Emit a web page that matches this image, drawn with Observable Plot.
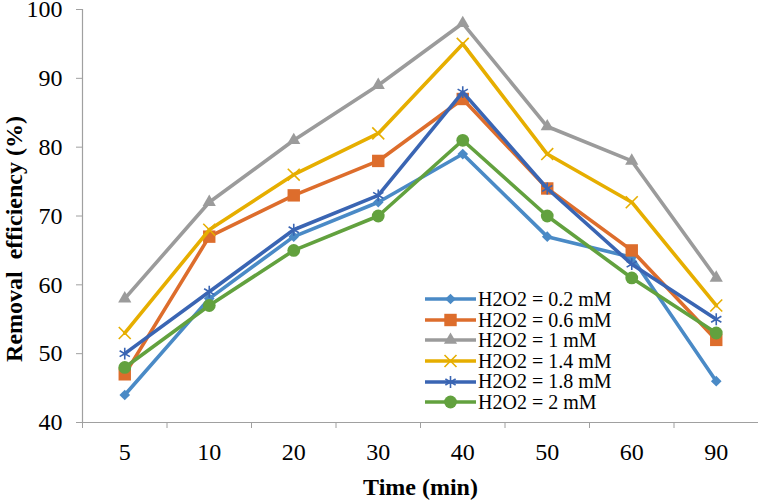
<!DOCTYPE html>
<html><head><meta charset="utf-8">
<script src="https://cdn.jsdelivr.net/npm/d3@7"></script>
<script src="https://cdn.jsdelivr.net/npm/@observablehq/plot@0.6"></script>
<style>
body{margin:0;background:#fff;}
#wrap{position:relative;width:758px;height:501px;}
#legend{position:absolute;left:425px;top:289px;font-family:"Liberation Serif",serif;font-size:20px;color:#000;line-height:20.6px;}
.row{display:flex;align-items:center;height:20.6px;white-space:nowrap;}
.row svg{display:block;}
</style></head><body><div id="wrap"><div id="legend"></div></div>
<script>
// ---- data ----
const times = ["5", "10", "20", "30", "40", "50", "60", "90"];
const seriesNames = ["H2O2 = 0.2 mM", "H2O2 = 0.6 mM", "H2O2 = 1 mM", "H2O2 = 1.4 mM", "H2O2 = 1.8 mM", "H2O2 = 2 mM"];
const h02 = [44, 58, 67, 72, 79, 67, 64, 46];
const h06 = [47, 67, 73, 78, 87, 74, 65, 52];
const h10 = [58, 72, 81, 89, 98, 83, 78, 61];
const h14 = [53, 68, 76, 82, 95, 79, 72, 57];
const h18 = [50, 59, 68, 73, 88, 74, 63, 55];
const h20 = [48, 57, 65, 70, 81, 70, 61, 53];
const yTicks = [40, 50, 60, 70, 80, 90, 100];
const xTitle = "Time (min)";
const yTitle = "Removal\u00a0 efficiency (%)";

// ---- styles ----
const seriesValues = [h02, h06, h10, h14, h18, h20];
const colors = ["#4A8AC6", "#DD6D2C", "#9B9B9B", "#E6AE00", "#3A65B3", "#62A13E"];
const symbols = ["diamond2", "square", "triangle", "times", "asterisk", "circle"];
const radii = [4.8, 7, 4.9, 5.5, 5.6, 6.4];
const filled = [true, true, true, false, false, true];
const axisColor = "#A0A0A0";
const font = "'Liberation Serif', 'Times New Roman', serif";

const rows = seriesNames.map((name, s) => seriesValues[s].map((v, i) => ({series: name, s, i, time: times[i], value: v})));

const marks = [
  Plot.ruleY([yTicks[0]], {stroke: axisColor, strokeWidth: 1.2}),
  Plot.ruleX([0], {stroke: axisColor, strokeWidth: 1.2}),
  Plot.axisX(d3.range(times.length + 1), {tickSize: 6, stroke: axisColor, tickFormat: () => ""}),
  Plot.axisX(d3.range(times.length).map(i => i + 0.5), {tickSize: 0, tickPadding: 20, tickFormat: d => times[Math.round(d - 0.5)], fontSize: 24, fill: "#000"}),
  Plot.axisY(yTicks, {tickSize: 6, tickPadding: 14, stroke: axisColor, fontSize: 24, fill: "#000", label: null}),
  Plot.text([xTitle], {frameAnchor: "bottom", lineAnchor: "bottom", dy: 72, fontSize: 24, fontWeight: "bold", fill: "#000"}),
  Plot.text([yTitle], {frameAnchor: "left", textAnchor: "middle", rotate: -90, dx: -68, dy: 23, fontSize: 24, fontWeight: "bold", fill: "#000"})
];
rows.forEach((data, s) => {
  marks.push(Plot.line(data, {x: d => d.i + 0.5, y: "value", stroke: colors[s], strokeWidth: 3.6, strokeLinejoin: "round"}));
  marks.push(Plot.dot(data, filled[s]
    ? {x: d => d.i + 0.5, y: "value", symbol: symbols[s], r: radii[s], fill: colors[s], stroke: "none"}
    : {x: d => d.i + 0.5, y: "value", symbol: symbols[s], r: radii[s], fill: "none", stroke: colors[s], strokeWidth: 1.6}));
});

const chart = Plot.plot({
  width: 758, height: 501,
  marginLeft: 82, marginRight: 0, marginTop: 9, marginBottom: 79,
  style: {fontFamily: font, background: "#fff", color: "#000", overflow: "visible"},
  x: {domain: [0, times.length], axis: null},
  y: {domain: [40, 100], axis: null},
  marks
});
document.getElementById("wrap").prepend(chart);

// legend
const legend = d3.select("#legend");
const symMap = {diamond2: d3.symbolDiamond2, square: d3.symbolSquare, triangle: d3.symbolTriangle, times: d3.symbolTimes, asterisk: d3.symbolAsterisk, circle: d3.symbolCircle};
seriesNames.forEach((name, s) => {
  const row = legend.append("div").attr("class", "row");
  const svg = row.append("svg").attr("width", 53).attr("height", 20);
  svg.append("line").attr("x1", 0).attr("x2", 51).attr("y1", 10).attr("y2", 10).attr("stroke", colors[s]).attr("stroke-width", 3.6);
  const path = svg.append("path").attr("transform", "translate(25.5,10)")
    .attr("d", d3.symbol(symMap[symbols[s]], Math.PI * radii[s] * radii[s])());
  if (filled[s]) path.attr("fill", colors[s]); else path.attr("fill", "none").attr("stroke", colors[s]).attr("stroke-width", 1.6);
  row.append("span").text(name);
});
</script>
</body></html>
